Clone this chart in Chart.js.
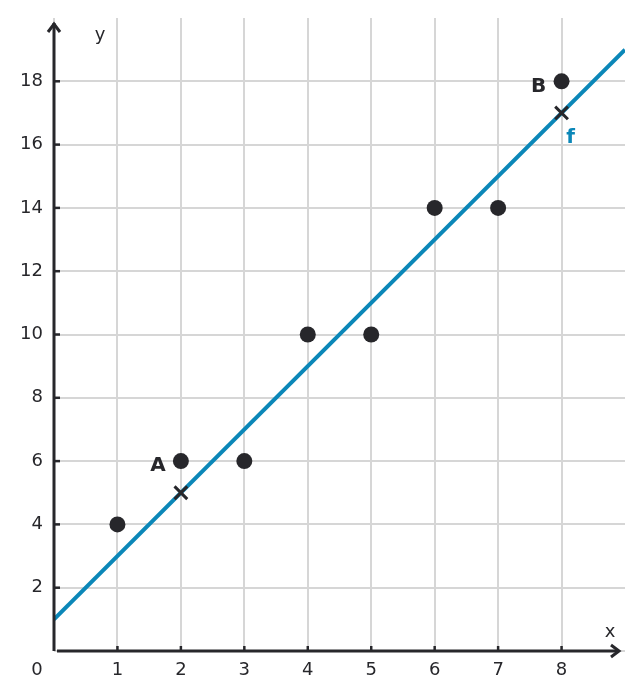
<!DOCTYPE html>
<html>
<head>
<meta charset="utf-8">
<script src="https://cdn.jsdelivr.net/npm/chart.js@4/dist/chart.umd.min.js"></script>
<style>
  body { margin: 0; background: #fff; }
</style>
</head>
<body>
<canvas id="lineChart" width="643" height="700"></canvas>
<script>
// data
var pointX = [1, 2, 3, 4, 5, 6, 7, 8];
var pointY = [4, 6, 6, 10, 10, 14, 14, 18];
var crossX = [2, 8];
var crossY = [5, 17];
var lineX = [0, 9];
var lineY = [1, 19];
var xTicks = [1, 2, 3, 4, 5, 6, 7, 8];
var yTicks = [2, 4, 6, 8, 10, 12, 14, 16, 18];
var pointNames = ['A', 'B'];
var namedX = [2, 8];
var namedY = [6, 18];

var dark = '#27272b';
var blue = '#0b87b8';
var font = '"DejaVu Sans", sans-serif';

function pairs(xs, ys) {
    return xs.map(function (x, i) { return { x: x, y: ys[i] }; });
}

// axes with arrows, tick labels and point names
var axesPlugin = {
    id: 'axes',
    afterDraw: function (chart) {
        var c = chart.ctx;
        var xs = chart.scales.x;
        var ys = chart.scales.y;
        var x0 = xs.getPixelForValue(0);
        var y0 = ys.getPixelForValue(0);
        var right = chart.chartArea.right;
        var top = chart.chartArea.top;
        c.save();
        c.strokeStyle = dark;
        c.fillStyle = dark;
        c.lineWidth = 3;
        c.lineCap = 'butt';
        // y axis
        c.beginPath();
        c.moveTo(x0, y0);
        c.lineTo(x0, top + 5);
        c.stroke();
        c.beginPath();
        c.moveTo(x0 - 6, top + 14);
        c.lineTo(x0, top + 6);
        c.lineTo(x0 + 6, top + 14);
        c.stroke();
        // x axis
        c.beginPath();
        c.moveTo(x0 + 3, y0);
        c.lineTo(right - 6, y0);
        c.stroke();
        c.beginPath();
        c.moveTo(right - 14, y0 - 6);
        c.lineTo(right - 6, y0);
        c.lineTo(right - 14, y0 + 6);
        c.stroke();
        // tick marks
        c.lineWidth = 2.5;
        yTicks.forEach(function (v) {
            var p = ys.getPixelForValue(v);
            c.beginPath();
            c.moveTo(x0, p);
            c.lineTo(x0 + 6, p);
            c.stroke();
        });
        xTicks.forEach(function (v) {
            var p = xs.getPixelForValue(v);
            c.beginPath();
            c.moveTo(p, y0);
            c.lineTo(p, y0 - 5);
            c.stroke();
        });
        // tick labels
        c.font = '18px ' + font;
        c.textBaseline = 'middle';
        c.textAlign = 'right';
        yTicks.forEach(function (v) {
            c.fillText(String(v), x0 - 11, ys.getPixelForValue(v));
        });
        c.textAlign = 'center';
        xTicks.forEach(function (v) {
            c.fillText(String(v), xs.getPixelForValue(v), y0 + 19);
        });
        c.fillText('0', x0 - 17, y0 + 19);
        c.fillText('x', right - 15, y0 - 19);
        c.fillText('y', x0 + 46, top + 17);
        // point names
        c.font = 'bold 20px ' + font;
        pointNames.forEach(function (name, i) {
            c.fillText(name, xs.getPixelForValue(namedX[i]) - 23, ys.getPixelForValue(namedY[i]) + 5);
        });
        c.fillStyle = blue;
        c.fillText('f', xs.getPixelForValue(crossX[1]) + 9, ys.getPixelForValue(crossY[1]) + 25);
        c.restore();
    }
};

var ctx = document.getElementById('lineChart').getContext('2d');
var lineChart = new Chart(ctx, {
    type: 'scatter',
    data: {
        datasets: [{
            label: 'points',
            data: pairs(pointX, pointY),
            pointRadius: 8,
            pointHoverRadius: 8,
            backgroundColor: dark,
            borderColor: dark,
            borderWidth: 0
        }, {
            label: 'f marks',
            data: pairs(crossX, crossY),
            pointStyle: 'crossRot',
            pointRadius: 9,
            borderColor: dark,
            borderWidth: 3
        }, {
            label: 'f',
            type: 'line',
            data: pairs(lineX, lineY),
            borderColor: blue,
            borderWidth: 4,
            pointRadius: 0,
            fill: false
        }]
    },
    options: {
        responsive: false,
        animation: false,
        layout: { padding: { left: 54, right: 18, top: 18, bottom: 49 } },
        plugins: {
            legend: { display: false },
            tooltip: { enabled: false }
        },
        scales: {
            x: {
                type: 'linear',
                min: 0,
                max: 9,
                ticks: { display: false, stepSize: 1 },
                border: { display: false },
                grid: {
                    drawTicks: false,
                    lineWidth: 2,
                    color: function (c) { return c.tick && c.tick.value === 9 ? 'rgba(0,0,0,0)' : '#d6d6d6'; }
                }
            },
            y: {
                min: 0,
                max: 20,
                ticks: { display: false, stepSize: 2 },
                border: { display: false },
                grid: {
                    drawTicks: false,
                    lineWidth: 2,
                    color: function (c) { return c.tick && c.tick.value === 20 ? 'rgba(0,0,0,0)' : '#d6d6d6'; }
                }
            }
        }
    },
    plugins: [axesPlugin]
});
</script>
</body>
</html>
